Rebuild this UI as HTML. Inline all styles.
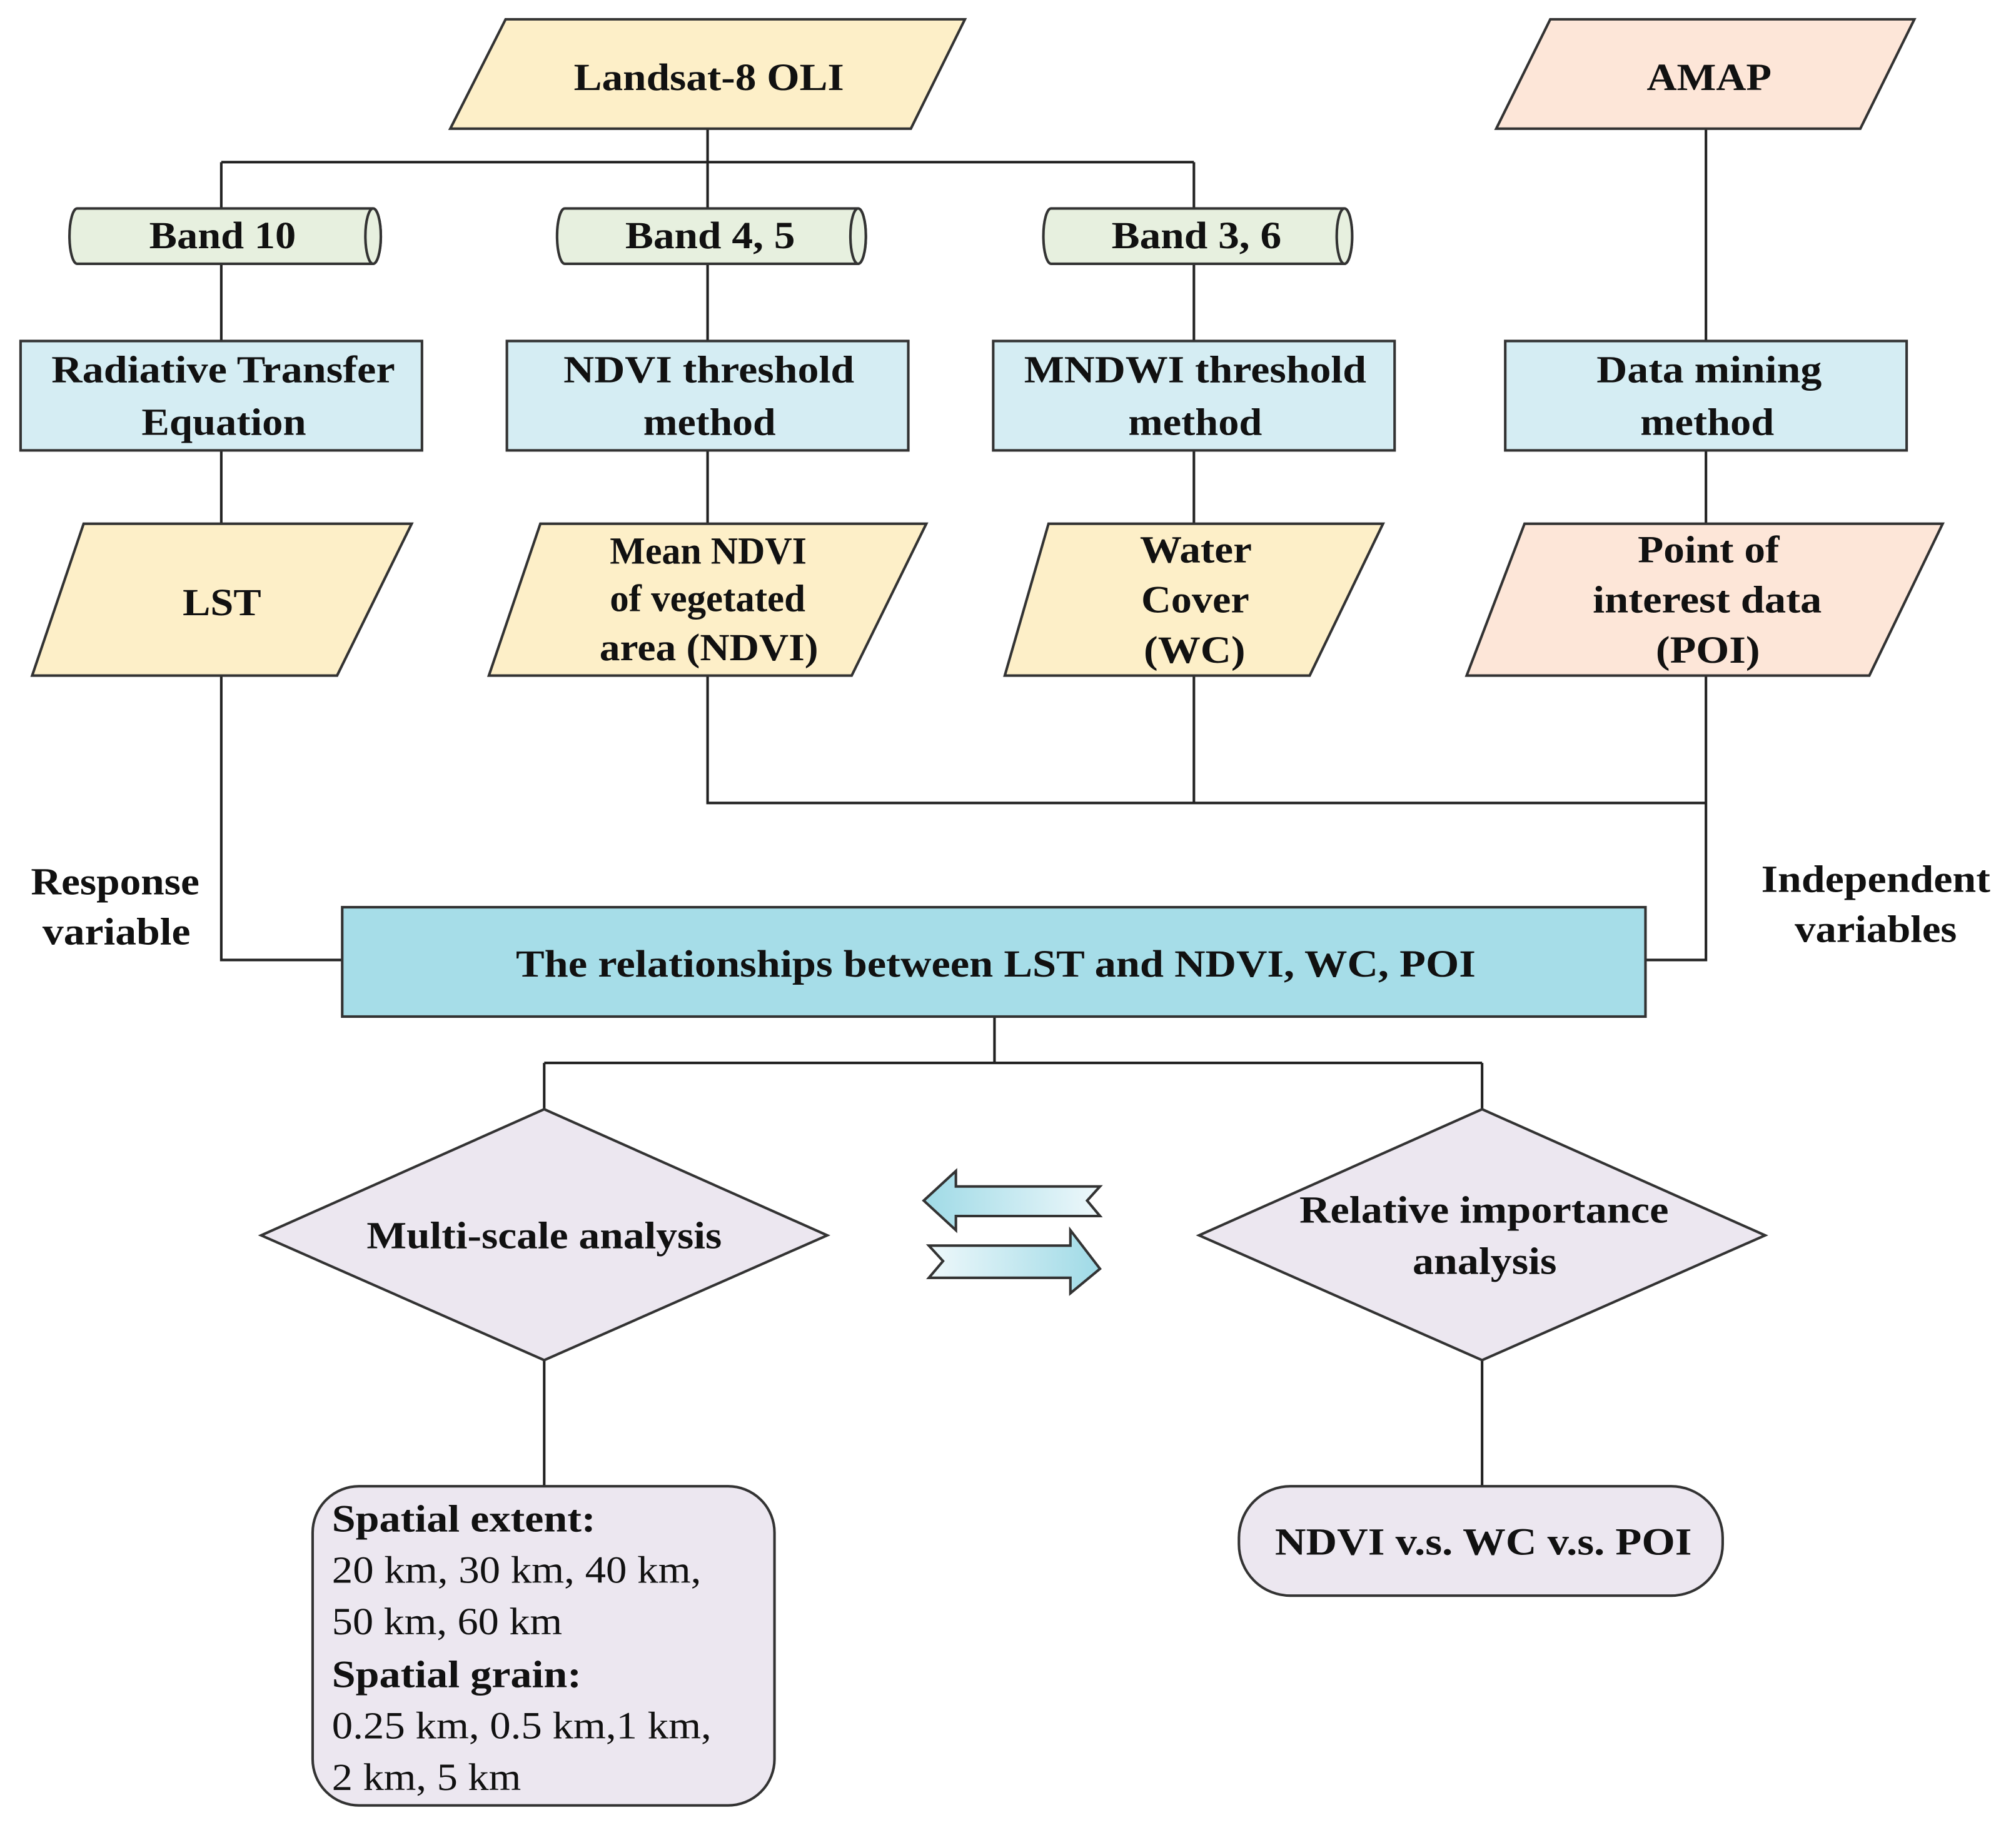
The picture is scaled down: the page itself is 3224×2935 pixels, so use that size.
<!DOCTYPE html>
<html><head><meta charset="utf-8"><style>
html,body{margin:0;padding:0;background:#fff;}
svg{display:block;}
text{font-family:"Liberation Serif",serif;font-weight:bold;font-size:30px;fill:#111;}
.n{font-weight:normal;}
</style></head><body>
<svg width="3224" height="2935" viewBox="0 0 1567 1426" preserveAspectRatio="none" xmlns="http://www.w3.org/2000/svg">
<defs>
<linearGradient id="ga" x1="0" x2="1" y1="0" y2="0"><stop offset="0" stop-color="#9fdae6"/><stop offset="1" stop-color="#eef8fb"/></linearGradient>
<linearGradient id="gb" x1="0" x2="1" y1="0" y2="0"><stop offset="0" stop-color="#eef8fb"/><stop offset="1" stop-color="#9fdae6"/></linearGradient>
</defs>
<g stroke="#222" stroke-width="2" fill="none">
<path d="M550,100V126M172,126H928M172,126V162M550,126V162M928,126V162"/>
<path d="M172,205V265M550,205V265M928,205V265M1326,100V265"/>
<path d="M172,350V407M550,350V407M928,350V407M1326,350V407"/>
<path d="M172,525V746H266M550,525V624H1326M928,525V624M1326,525V746H1279"/>
<path d="M773,790V826M423,826H1152M423,826V862M1152,826V862"/>
<path d="M423,1057V1155M1152,1057V1155"/>
</g>
<g stroke="#333" stroke-width="2">
<polygon points="393,15 750,15 708,100 350,100" fill="#fdefc8"/>
<polygon points="1205,15 1488,15 1446,100 1163,100" fill="#fde6d8"/>
<path d="M60,162H290A6,21.5 0 0 1 290,205H60A6,21.5 0 0 1 60,162Z" fill="#e7f0df"/>
<ellipse cx="290" cy="183.5" rx="6" ry="21.5" fill="#e7f0df"/>
<path d="M439,162H667A6,21.5 0 0 1 667,205H439A6,21.5 0 0 1 439,162Z" fill="#e7f0df"/>
<ellipse cx="667" cy="183.5" rx="6" ry="21.5" fill="#e7f0df"/>
<path d="M817,162H1045A6,21.5 0 0 1 1045,205H817A6,21.5 0 0 1 817,162Z" fill="#e7f0df"/>
<ellipse cx="1045" cy="183.5" rx="6" ry="21.5" fill="#e7f0df"/>
<rect x="16" y="265" width="312" height="85" fill="#d5edf3"/>
<rect x="394" y="265" width="312" height="85" fill="#d5edf3"/>
<rect x="772" y="265" width="312" height="85" fill="#d5edf3"/>
<rect x="1170" y="265" width="312" height="85" fill="#d5edf3"/>
<polygon points="65,407 320,407 262,525 25,525" fill="#fdefc8"/>
<polygon points="420,407 720,407 662,525 380,525" fill="#fdefc8"/>
<polygon points="815,407 1075,407 1018,525 781,525" fill="#fdefc8"/>
<polygon points="1185,407 1510,407 1453,525 1140,525" fill="#fde6d8"/>
<rect x="266" y="705" width="1013" height="85" fill="#a6dde8"/>
<polygon points="423,862 643,960 423,1057 203,960" fill="#ece7f0"/>
<polygon points="1152,862 1372,960 1152,1057 932,960" fill="#ece7f0"/>
<rect x="243" y="1155" width="359" height="248" rx="36" fill="#ece7f0"/>
<rect x="963" y="1155" width="376" height="85" rx="40" fill="#ece7f0"/>
<polygon points="718,933 743,910 743,922 855,922 845,933 855,945 743,945 743,956" fill="url(#ga)"/>
<polygon points="722,968 832,968 832,956 855,986 832,1005 832,993 722,993 733,980" fill="url(#gb)"/>
</g>
<g text-anchor="start">
<text x="446" y="70" textLength="210" lengthAdjust="spacingAndGlyphs">Landsat-8 OLI</text>
<text x="1280" y="70" textLength="97" lengthAdjust="spacingAndGlyphs">AMAP</text>
<text x="116" y="193" textLength="114" lengthAdjust="spacingAndGlyphs">Band 10</text>
<text x="486" y="193" textLength="132" lengthAdjust="spacingAndGlyphs">Band 4, 5</text>
<text x="864" y="193" textLength="132" lengthAdjust="spacingAndGlyphs">Band 3, 6</text>
<text x="40" y="297" textLength="267" lengthAdjust="spacingAndGlyphs">Radiative Transfer</text>
<text x="110" y="338" textLength="128" lengthAdjust="spacingAndGlyphs">Equation</text>
<text x="438" y="297" textLength="226" lengthAdjust="spacingAndGlyphs">NDVI threshold</text>
<text x="500" y="338" textLength="103" lengthAdjust="spacingAndGlyphs">method</text>
<text x="796" y="297" textLength="266" lengthAdjust="spacingAndGlyphs">MNDWI threshold</text>
<text x="877" y="338" textLength="104" lengthAdjust="spacingAndGlyphs">method</text>
<text x="1241" y="297" textLength="175" lengthAdjust="spacingAndGlyphs">Data mining</text>
<text x="1275" y="338" textLength="104" lengthAdjust="spacingAndGlyphs">method</text>
<text x="142" y="478" textLength="61" lengthAdjust="spacingAndGlyphs">LST</text>
<text x="474" y="438" textLength="153" lengthAdjust="spacingAndGlyphs">Mean NDVI</text>
<text x="474" y="475" textLength="152" lengthAdjust="spacingAndGlyphs">of vegetated</text>
<text x="466" y="513" textLength="170" lengthAdjust="spacingAndGlyphs">area (NDVI)</text>
<text x="886" y="437" textLength="87" lengthAdjust="spacingAndGlyphs">Water</text>
<text x="887" y="476" textLength="84" lengthAdjust="spacingAndGlyphs">Cover</text>
<text x="889" y="515" textLength="79" lengthAdjust="spacingAndGlyphs">(WC)</text>
<text x="1273" y="437" textLength="110" lengthAdjust="spacingAndGlyphs">Point of</text>
<text x="1238" y="476" textLength="178" lengthAdjust="spacingAndGlyphs">interest data</text>
<text x="1287" y="515" textLength="81" lengthAdjust="spacingAndGlyphs">(POI)</text>
<text x="24" y="695" textLength="131" lengthAdjust="spacingAndGlyphs">Response</text>
<text x="33" y="734" textLength="115" lengthAdjust="spacingAndGlyphs">variable</text>
<text x="1369" y="693" textLength="178" lengthAdjust="spacingAndGlyphs">Independent</text>
<text x="1395" y="732" textLength="126" lengthAdjust="spacingAndGlyphs">variables</text>
<text x="401" y="759" textLength="746" lengthAdjust="spacingAndGlyphs">The relationships between LST and NDVI, WC, POI</text>
<text x="285" y="970" textLength="276" lengthAdjust="spacingAndGlyphs">Multi-scale analysis</text>
<text x="1010" y="950" textLength="287" lengthAdjust="spacingAndGlyphs">Relative importance</text>
<text x="1098" y="990" textLength="112" lengthAdjust="spacingAndGlyphs">analysis</text>
<text x="991" y="1208" textLength="324" lengthAdjust="spacingAndGlyphs">NDVI v.s. WC v.s. POI</text>
<text x="258" y="1190" textLength="205" lengthAdjust="spacingAndGlyphs">Spatial extent:</text>
<text class="n" x="258" y="1230" textLength="287" lengthAdjust="spacingAndGlyphs">20 km, 30 km, 40 km,</text>
<text class="n" x="258" y="1270" textLength="179" lengthAdjust="spacingAndGlyphs">50 km, 60 km</text>
<text x="258" y="1311" textLength="194" lengthAdjust="spacingAndGlyphs">Spatial grain:</text>
<text class="n" x="258" y="1351" textLength="295" lengthAdjust="spacingAndGlyphs">0.25 km, 0.5 km,1 km,</text>
<text class="n" x="258" y="1391" textLength="147" lengthAdjust="spacingAndGlyphs">2 km, 5 km</text>
</g>
</svg>
</body></html>
